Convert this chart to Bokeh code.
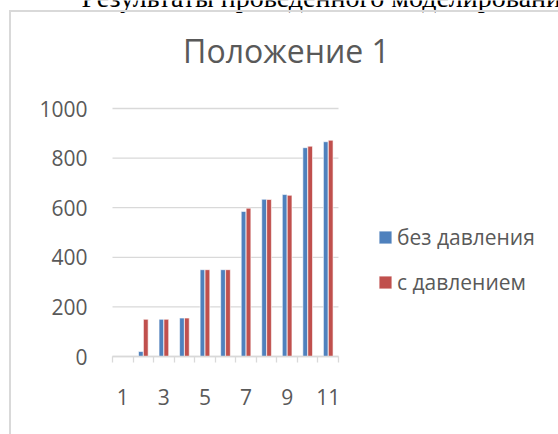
from bokeh.plotting import figure
from bokeh.models import (Range1d, FixedTicker, Legend, LegendItem, Label,
                          ColumnDataSource)
from bokeh.transform import dodge
from bokeh.embed import file_html
from bokeh.resources import INLINE

categories = [1, 2, 3, 4, 5, 6, 7, 8, 9, 10, 11]
bez_davleniya = [0, 20, 150, 155, 350, 350, 585, 634, 653, 842, 866]
s_davleniem = [0, 150, 150, 155, 350, 350, 598, 633, 650, 848, 872]
series_names = ["без давления", "с давлением"]
x_tick_values = [1, 3, 5, 7, 9, 11]
x_tick_labels = ["1", "3", "5", "7", "9", "11"]
y_tick_values = [0, 200, 400, 600, 800, 1000]
title_text = "Положение 1"
page_text = "Результаты проведенного моделирования"

BLUE = "#4F81BD"
RED = "#C0504D"
GRAY = "#595959"
GRID = "#D9D9D9"
FONT = "Open Sans"

W, H = 558, 434
# plot-area geometry (pixels); the frame spans the whole canvas
PL, PR, PT, PB = 112, 338, 108, 356
x_lo, x_hi = categories[0] - 0.5, categories[-1] + 0.5
y_lo, y_hi = y_tick_values[0], y_tick_values[-1]
kx = (PR - PL) / (x_hi - x_lo)
ky = (PB - PT) / (y_hi - y_lo)


def px_x(px):
    return x_lo + (px - PL) / kx


def px_y(py):
    return y_lo + (PB - py) / ky


src = ColumnDataSource(dict(cat=categories, a=bez_davleniya, b=s_davleniem))

border_css = (":host::after { content: ''; position: fixed; left: 9px; top: 10px; "
              "width: 700px; height: 700px; border-left: 2px solid #D9D9D9; "
              "border-top: 2px solid #D9D9D9; pointer-events: none; z-index: 100; }")

p = figure(width=W, height=H, output_backend="svg", toolbar_location=None,
           x_range=Range1d(px_x(0), px_x(W)), y_range=Range1d(px_y(H), px_y(0)),
           min_border_left=0, min_border_right=0,
           min_border_top=0, min_border_bottom=0,
           stylesheets=[border_css])
p.outline_line_color = None
p.background_fill_color = "white"
p.border_fill_color = "white"
p.xgrid.grid_line_color = None
p.ygrid.grid_line_color = None

# horizontal gridlines limited to the plot area
n = len(y_tick_values)
p.segment(x0=[x_lo] * n, x1=[x_hi] * n, y0=y_tick_values, y1=y_tick_values,
          line_color=GRID, line_width=1.3)

r1 = p.vbar(x=dodge("cat", -0.12, range=p.x_range), top="a", width=0.23,
            source=src, fill_color=BLUE, line_color="white", line_width=0.6)
r2 = p.vbar(x=dodge("cat", 0.12, range=p.x_range), top="b", width=0.23,
            source=src, fill_color=RED, line_color="white", line_width=0.6)

# x axis, drawn at y = 0
xa = p.xaxis[0]
xa.fixed_location = y_lo
xa.bounds = (x_lo, x_hi)
xa.ticker = FixedTicker(ticks=x_tick_values,
                        minor_ticks=[c - 0.5 for c in categories] + [x_hi])
xa.major_label_overrides = {v: s for v, s in zip(x_tick_values, x_tick_labels)}
xa.major_tick_line_color = None
xa.major_tick_out = 0
xa.major_tick_in = 0
xa.minor_tick_line_color = GRID
xa.minor_tick_line_width = 1.3
xa.minor_tick_out = 6
xa.minor_tick_in = 0
xa.axis_line_color = GRID
xa.axis_line_width = 1.3
xa.major_label_standoff = 26
xa.major_label_text_font = FONT
xa.major_label_text_font_size = "21px"
xa.major_label_text_color = GRAY

# y axis, drawn at the left edge of the category area
ya = p.yaxis[0]
ya.fixed_location = x_lo
ya.ticker = FixedTicker(ticks=y_tick_values)
ya.axis_line_color = None
ya.major_tick_line_color = None
ya.minor_tick_line_color = None
ya.major_tick_out = 0
ya.major_label_standoff = 25
ya.major_label_text_font = FONT
ya.major_label_text_font_size = "21px"
ya.major_label_text_color = GRAY

legend = Legend(items=[LegendItem(label=series_names[0], renderers=[r1]),
                       LegendItem(label=series_names[1], renderers=[r2])],
                location=(377, H - 296),
                orientation="vertical",
                border_line_color=None, background_fill_alpha=0,
                padding=0, margin=0, spacing=16,
                label_text_font=FONT, label_text_font_size="21px",
                label_text_color=GRAY, label_standoff=4,
                glyph_width=16, glyph_height=16, label_height=29)
p.add_layout(legend)

p.add_layout(Label(x=px_x(286), y=px_y(50), text=title_text,
                   text_align="center", text_baseline="alphabetic",
                   text_font=FONT, text_font_size="32px", text_color=GRAY))
p.add_layout(Label(x=px_x(81), y=px_y(-3), text=page_text,
                   text_align="left", text_baseline="alphabetic",
                   text_font="Liberation Serif", text_font_size="28px",
                   text_color="black"))

open("out.html", "w").write(file_html(p, INLINE))
